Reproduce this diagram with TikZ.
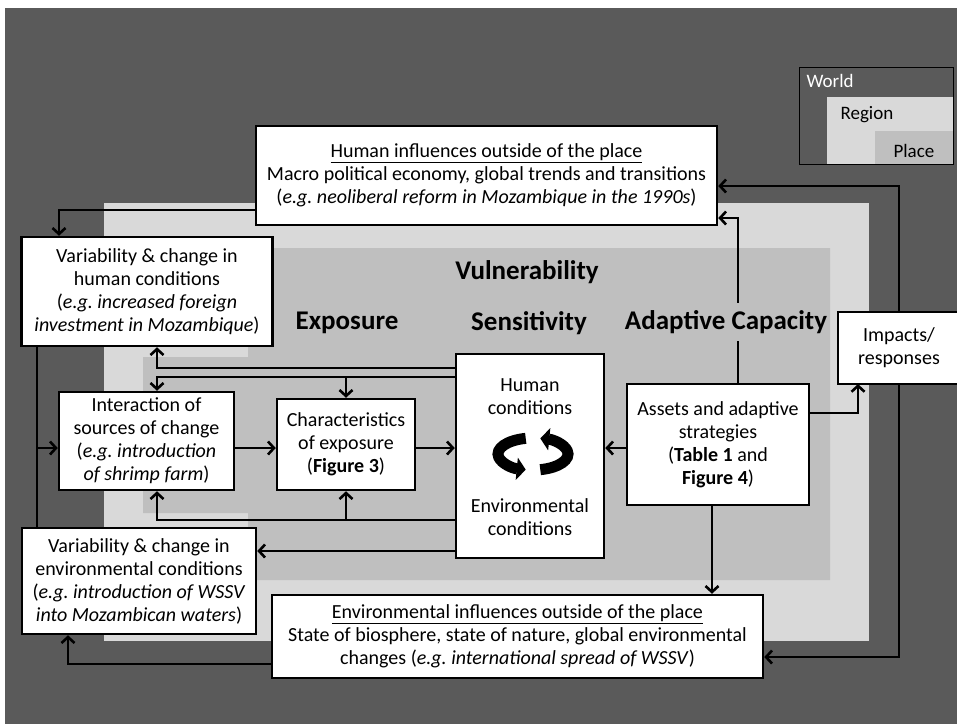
\documentclass[tikz,border=0pt]{standalone}
\usepackage{fontspec}
\setmainfont{Carlito}
\usetikzlibrary{arrows.meta}
\definecolor{world}{HTML}{5A5A5A}
\definecolor{region}{HTML}{D9D9D9}
\definecolor{place}{HTML}{BFBFBF}
\newcommand{\eg}{\textit{e.g.}}
\tikzset{
  box/.style={draw, fill=white, line width=2.5pt, align=center, inner sep=0pt},
  conn/.style={line width=2.6pt, -{Straight Barb[length=6pt,width=13pt]}},
  plain/.style={line width=2.6pt},
  head/.style={font=\fontsize{27}{30}\selectfont\bfseries},
}

\begin{document}
\begin{tikzpicture}[x=1pt, y=-1pt, font=\fontsize{20}{23}\selectfont]
\useasboundingbox (0,0) rectangle (957,724);
% world, region and place
\fill[world] (5,8) rectangle (957,724);
\fill[region] (104,203) rectangle (869,641);
\fill[place] (248,248) -- (830,248) -- (830,580) -- (248,580) -- (248,513)
  -- (143,513) -- (143,357) -- (248,357) -- cycle;

% legend
\fill[region] (827,97) rectangle (953,164);
\fill[place] (875,131) rectangle (953,164);
\draw[line width=1pt] (799,67) rectangle (953,164);
\node[anchor=west, text=white, font=\fontsize{19}{22}\selectfont] (world) at (803,81) {World};
\node[anchor=west, font=\fontsize{19}{22}\selectfont] (region) at (837,115) {Region};
\node[anchor=west, font=\fontsize{19}{22}\selectfont] (place) at (890,151) {Place};

% boxes
\node[box, minimum width=461, minimum height=99] (hum) at (486.5,175.5)
  {\underline{Human influences outside of the place}\\
   Macro political economy, global trends and transitions\\
   (\eg\ \textit{neoliberal reform in Mozambique in the 1990s})};
\node[box, minimum width=251, minimum height=109] (varhum) at (147,291.5)
  {Variability \& change in\\ human conditions\\
   (\eg\ \textit{increased foreign}\\ \textit{investment in Mozambique})};
\node[box, minimum width=175, minimum height=98] (inter) at (146.5,441)
  {Interaction of\\ sources of change\\
   (\eg\ \textit{introduction}\\ \textit{of shrimp farm})};
\node[box, minimum width=138, minimum height=91] (charex) at (346,444.5)
  {Characteristics\\ of exposure\\ (\textbf{Figure 3})};
\node[box, minimum width=148, minimum height=204] (sens) at (530,456) {};
\node[box, minimum width=182, minimum height=121] (assets) at (718,444.5)
  {Assets and adaptive\\ strategies\\ (\textbf{Table 1} and\\ \textbf{Figure 4})};
\node[box, minimum width=234, minimum height=106] (varenv) at (139,581)
  {Variability \& change in\\ environmental conditions\\
   (\eg\ \textit{introduction of WSSV}\\ \textit{into Mozambican waters})};
\node[box, minimum width=491, minimum height=83] (envinf) at (517.5,636.5)
  {\underline{Environmental influences outside of the place}\\
   State of biosphere, state of nature, global environmental\\
   changes (\eg\ \textit{international spread of WSSV})};

% connectors
\draw[conn] (hum.west |- 0,210) -| (varhum.north -| 59,0);
\draw[conn] (assets.north -| 738,0) |- (hum.east |- 0,218);
\draw[conn] (assets.east |- 0,413) -| (858,384);
\draw[conn] (assets.west |- 0,448) -- (sens.east |- 0,448);
\draw[conn] (assets.south -| 712,0) -- (envinf.north -| 712,0);
\draw[conn] (envinf.west |- 0,664) -| (varenv.south -| 68,0);
\draw[conn] (sens.west |- 0,551) -- (varenv.east |- 0,551);
\draw[conn] (sens.west |- 0,520) -| (inter.south -| 157,0);
\draw[conn] (charex.south |- 0,520) -- (charex.south);
\draw[conn] (sens.west |- 0,368) -| (varhum.south -| 157,0);
\draw[conn] (sens.west |- 0,377) -| (inter.north -| 157,0);
\draw[conn] (charex.north |- 0,377) -- (charex.north);
\draw[plain] (varhum.south -| 37,0) -- (varenv.north -| 37,0);
\coordinate (lft) at (37,448);
\draw[conn] (lft) -- (inter.west |- lft);
\draw[conn] (inter.east |- lft) -- (charex.west |- lft);
\draw[conn] (charex.east |- lft) -- (sens.west |- lft);

% impacts and the outer loop
\node[box, minimum width=122, minimum height=72] (impacts) at (899,348)
  {Impacts/\\ responses};
\draw[conn] (impacts.north) |- (hum.east |- 0,186);
\draw[conn] (impacts.south) |- (envinf.east |- 0,657);

% headings
\node[head] (vuln) at (527,272) {Vulnerability};
\node[head] (expo) at (347,323) {Exposure};
\node[head] (sensi) at (529,323) {Sensitivity};
\node[head, fill=place, inner ysep=7pt] (adcap) at (726,322) {Adaptive Capacity};

% inside sensitivity
\node[align=center] (senshum) at (530,397) {Human\\ conditions};
\node[align=center] (sensenv) at (530,517) {Environmental\\ conditions};
\coordinate (cyc) at (533,454);
\draw[line width=11pt, -{Triangle[length=9pt,width=22pt]}]
  ([shift={(258:35 and 16)}]cyc) arc[start angle=258, end angle=102, x radius=35, y radius=16];
\draw[line width=11pt, -{Triangle[length=9pt,width=22pt]}]
  ([shift={(78:35 and 16)}]cyc) arc[start angle=78, end angle=-78, x radius=35, y radius=16];
\end{tikzpicture}
\end{document}
